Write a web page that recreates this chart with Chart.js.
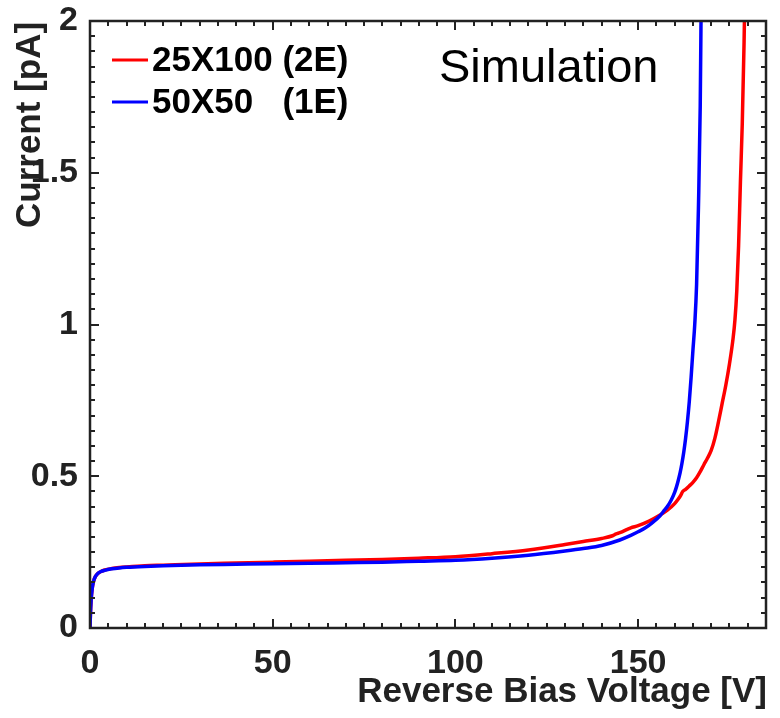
<!DOCTYPE html>
<html>
<head>
<meta charset="utf-8">
<script src="https://cdn.jsdelivr.net/npm/chart.js@4/dist/chart.umd.min.js"></script>
<style>
  html, body { margin: 0; padding: 0; background: #ffffff; }
  #wrap { width: 780px; height: 718px; position: relative; }
</style>
</head>
<body>
<div id="wrap"><canvas id="iv" width="780" height="718"></canvas></div>
<script>
// I-V curves: reverse bias voltage [V] vs. current [pA]
const seriesLabels = ['25X100 (2E)', '50X50   (1E)'];

const voltage2E = [0, 0.1, 0.3, 0.6, 1, 1.5, 2, 3, 4, 6, 8, 10, 15, 20, 30, 40, 50, 60, 70, 80, 90, 100, 110, 120, 130, 135, 140, 143, 144, 145, 148, 150, 153, 156, 158, 160, 161, 161.7, 162.2, 163, 164, 165, 166, 167, 168, 169, 170, 171, 172, 173, 174, 175, 176, 176.5, 177, 177.5, 178, 178.5, 179, 179.5];
const current2E = [0, 0.04, 0.09, 0.13, 0.155, 0.17, 0.178, 0.186, 0.191, 0.196, 0.199, 0.201, 0.205, 0.207, 0.211, 0.214, 0.217, 0.220, 0.223, 0.226, 0.230, 0.235, 0.245, 0.257, 0.275, 0.285, 0.295, 0.304, 0.310, 0.314, 0.330, 0.337, 0.352, 0.372, 0.388, 0.410, 0.425, 0.438, 0.450, 0.457, 0.468, 0.480, 0.495, 0.515, 0.538, 0.560, 0.585, 0.625, 0.680, 0.740, 0.800, 0.870, 0.955, 1.015, 1.110, 1.260, 1.470, 1.660, 1.930, 2.300];

const voltage1E = [0, 0.1, 0.3, 0.6, 1, 1.5, 2, 3, 4, 6, 8, 10, 15, 20, 30, 40, 50, 60, 70, 80, 90, 100, 110, 120, 130, 135, 140, 145, 148, 150, 152, 154, 156, 157, 158, 159, 160, 160.5, 161, 161.5, 162, 162.5, 163, 163.5, 164, 164.5, 165, 165.5, 166, 166.5, 167, 167.2, 167.5];
const current1E = [0, 0.04, 0.09, 0.13, 0.155, 0.17, 0.178, 0.186, 0.19, 0.195, 0.198, 0.200, 0.203, 0.205, 0.208, 0.210, 0.212, 0.213, 0.215, 0.217, 0.220, 0.223, 0.230, 0.240, 0.254, 0.262, 0.272, 0.290, 0.305, 0.317, 0.330, 0.348, 0.370, 0.385, 0.400, 0.420, 0.447, 0.465, 0.487, 0.512, 0.543, 0.580, 0.625, 0.680, 0.745, 0.825, 0.915, 1.000, 1.130, 1.380, 1.720, 1.980, 2.300];

const xTickValues = [0, 50, 100, 150];
const xTickLabels = ['0', '50', '100', '150'];
const yTickValues = [0, 0.5, 1, 1.5, 2];
const yTickLabels = ['0', '0.5', '1', '1.5', '2'];

const xRange = [0, 185];
const yRange = [0, 2];
const xMinorStep = 5;
const yMinorStep = 0.05;

const FONT = '"Liberation Sans", Arial, Helvetica, sans-serif';
const INK = '#222222';

function points(xs, ys) {
  return xs.map((x, i) => ({ x: x, y: ys[i] }));
}

// frame with inward ticks on all four sides
const frameTicks = {
  id: 'frameTicks',
  afterDatasetsDraw(chart) {
    const { ctx, chartArea: a, scales } = chart;
    const xs = scales.x, ys = scales.y;
    ctx.save();
    ctx.strokeStyle = INK;
    ctx.lineWidth = 2;
    ctx.beginPath();
    for (let k = 0; k * xMinorStep <= xRange[1] + 1e-9; k++) {
      const v = k * xMinorStep;
      const px = Math.round(xs.getPixelForValue(v));
      const len = (k % 10 === 0) ? 9 : 5;
      ctx.moveTo(px, a.bottom); ctx.lineTo(px, a.bottom - len);
      ctx.moveTo(px, a.top); ctx.lineTo(px, a.top + len);
    }
    for (let k = 0; k * yMinorStep <= yRange[1] + 1e-9; k++) {
      const v = k * yMinorStep;
      const py = Math.round(ys.getPixelForValue(v));
      const len = (k % 10 === 0) ? 9 : 5;
      ctx.moveTo(a.left, py); ctx.lineTo(a.left + len, py);
      ctx.moveTo(a.right, py); ctx.lineTo(a.right - len, py);
    }
    ctx.stroke();
    ctx.lineWidth = 2.5;
    ctx.strokeRect(a.left, a.top, a.right - a.left, a.bottom - a.top);
    ctx.restore();
  },
  afterDraw(chart) {
    const { ctx, chartArea: a } = chart;
    ctx.save();
    // axis titles
    ctx.fillStyle = INK;
    ctx.font = 'bold 35px ' + FONT;
    ctx.textAlign = 'right';
    ctx.textBaseline = 'alphabetic';
    ctx.fillText('Reverse Bias Voltage [V]', a.right + 1, 702);
    ctx.save();
    ctx.translate(40, 228);
    ctx.rotate(-Math.PI / 2);
    ctx.textAlign = 'left';
    ctx.fillText('Current [pA]', 0, 0);
    ctx.restore();
    // legend
    ctx.font = 'bold 35px ' + FONT;
    ctx.textAlign = 'left';
    ctx.textBaseline = 'middle';
    const rows = [60, 102];
    chart.data.datasets.forEach((ds, i) => {
      const y = rows[i];
      ctx.strokeStyle = ds.borderColor;
      ctx.lineWidth = 3;
      ctx.beginPath();
      ctx.moveTo(112, y); ctx.lineTo(148, y);
      ctx.stroke();
      ctx.fillStyle = '#000000';
      ctx.fillText(ds.label, 152, y + 1);
    });
    // annotation
    ctx.font = '47px ' + FONT;
    ctx.textBaseline = 'alphabetic';
    ctx.fillStyle = '#000000';
    ctx.fillText('Simulation', 439, 82);
    ctx.restore();
  }
};

new Chart(document.getElementById('iv'), {
  type: 'line',
  data: {
    datasets: [
      {
        label: seriesLabels[0],
        data: points(voltage2E, current2E),
        borderColor: '#ff0000',
        borderWidth: 3.5,
        pointRadius: 0,
        cubicInterpolationMode: 'monotone',
        fill: false,
        order: 1
      },
      {
        label: seriesLabels[1],
        data: points(voltage1E, current1E),
        borderColor: '#0000ff',
        borderWidth: 3.5,
        pointRadius: 0,
        cubicInterpolationMode: 'monotone',
        fill: false,
        order: 0
      }
    ]
  },
  options: {
    responsive: false,
    animation: false,
    devicePixelRatio: 1,
    layout: { padding: { left: 0, top: 21, right: 14, bottom: 0 } },
    plugins: { legend: { display: false }, tooltip: { enabled: false } },
    scales: {
      x: {
        type: 'linear',
        min: xRange[0],
        max: xRange[1],
        border: { display: false },
        grid: { display: false, drawTicks: false },
        afterBuildTicks(scale) {
          scale.ticks = xTickValues.map(v => ({ value: v }));
        },
        afterFit(scale) {
          scale.height = 90;
          scale.paddingLeft = 0;
          scale.paddingRight = 0;
        },
        ticks: {
          autoSkip: false,
          maxRotation: 0,
          padding: 15,
          color: INK,
          font: { family: FONT, size: 34, weight: 'bold' },
          callback: (v) => xTickLabels[xTickValues.indexOf(v)]
        }
      },
      y: {
        type: 'linear',
        min: yRange[0],
        max: yRange[1],
        border: { display: false },
        grid: { display: false, drawTicks: false },
        afterBuildTicks(scale) {
          scale.ticks = yTickValues.map(v => ({ value: v }));
        },
        afterFit(scale) {
          scale.width = 90;
          scale.paddingTop = 0;
          scale.paddingBottom = 0;
        },
        ticks: {
          autoSkip: false,
          padding: 12,
          color: INK,
          font: { family: FONT, size: 34, weight: 'bold', lineHeight: 0.5 },
          callback: (v) => yTickLabels[yTickValues.indexOf(v)]
        }
      }
    }
  },
  plugins: [frameTicks]
});
</script>
</body>
</html>
